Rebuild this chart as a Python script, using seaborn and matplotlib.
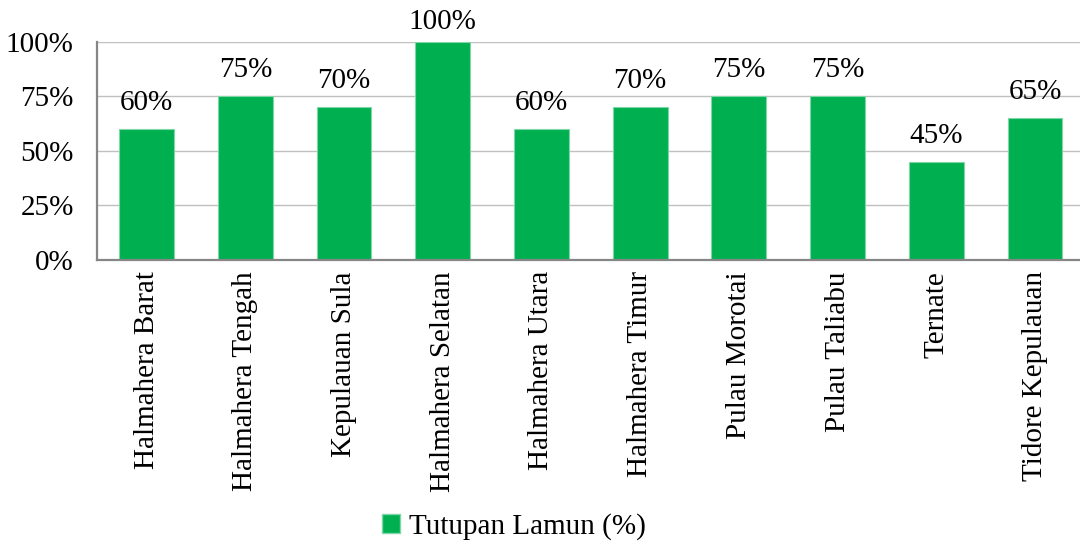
import matplotlib
matplotlib.use("Agg")
import matplotlib.pyplot as plt
import seaborn as sns
import pandas as pd
from matplotlib.ticker import FuncFormatter
from matplotlib.patches import Patch

regions = ["Halmahera Barat", "Halmahera Tengah", "Kepulauan Sula", "Halmahera Selatan",
           "Halmahera Utara", "Halmahera Timur", "Pulau Morotai", "Pulau Taliabu",
           "Ternate", "Tidore Kepulauan"]
coverage = [60, 75, 70, 100, 60, 70, 75, 75, 45, 65]
series_name = "Tutupan Lamun (%)"
y_ticks = [0, 25, 50, 75, 100]

sns.set_theme(style="white")
plt.rcParams["font.family"] = ["Liberation Serif", "DejaVu Serif"]
plt.rcParams["text.color"] = "black"

green = "#00B050"
fs = 21
df = pd.DataFrame({"region": regions, "coverage": coverage})

fig = plt.figure(figsize=(10.8, 5.43), dpi=100)
ax = fig.add_axes([97.3 / 1080, 1 - 260 / 543, 987 / 1080, 218.3 / 543])

sns.barplot(data=df, x="region", y="coverage", color=green, saturation=1,
            width=0.555, edgecolor="#7FD7A7", linewidth=0.8, ax=ax)

ax.set_xlim(-0.5, len(regions) - 0.5)
ax.set_ylim(0, 100)
ax.set_yticks(y_ticks)
ax.yaxis.set_major_formatter(FuncFormatter(lambda v, p: f"{v:.0f}%"))
ax.grid(axis="y", color="#C0C0C0", linewidth=1.0)
ax.set_axisbelow(True)

for s in ["top", "right"]:
    ax.spines[s].set_visible(False)
for s in ["left", "bottom"]:
    ax.spines[s].set_color("#868686")
    ax.spines[s].set_linewidth(1.6)

# category boundary ticks on the x axis, labels centred on the bars
ax.set_xticks([i - 0.5 for i in range(len(regions) + 1)], minor=False)
ax.set_xticklabels([])
ax.set_xticks(range(len(regions)), minor=True)
ax.set_xticklabels(regions, minor=True, rotation=90, fontsize=fs, color="black")
ax.tick_params(axis="x", which="major", length=6, width=1.2, color="#868686", direction="out")
ax.tick_params(axis="x", which="minor", length=0, pad=8)
ax.tick_params(axis="y", length=6, width=1.2, color="#868686", direction="out",
               labelsize=fs, labelcolor="black", pad=11)
ax.set_xlabel("")
ax.set_ylabel("")

# value labels sit above each bar, kept inside the figure for the tallest bar
label_gap = 11.9
label_top = 109
for i, v in enumerate(coverage):
    ax.text(i, min(v + label_gap, label_top), f"{v}%", ha="center", va="center",
            fontsize=fs, color="black", clip_on=False)

handle = Patch(facecolor=green, edgecolor="#7FD7A7", label=series_name)
leg = fig.legend(handles=[handle], loc="center", bbox_to_anchor=(0.476, 1 - 527 / 543),
                 frameon=False, fontsize=fs, handlelength=0.62, handleheight=0.62,
                 handletextpad=0.3)
for t in leg.get_texts():
    t.set_color("black")

fig.savefig("out.png", dpi=100)
